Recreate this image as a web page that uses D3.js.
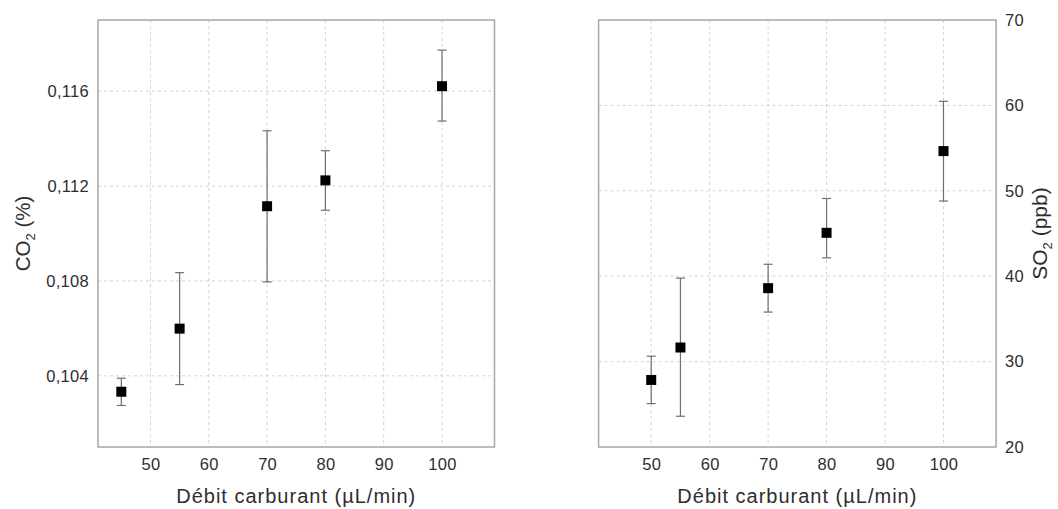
<!DOCTYPE html>
<html>
<head>
<meta charset="utf-8">
<script src="https://cdn.jsdelivr.net/npm/d3@7"></script>
<style>
  html, body { margin: 0; padding: 0; background: #fff; }
  svg { display: block; font-family: "Liberation Sans", Arial, sans-serif; }
</style>
</head>
<body>
<svg id="chart" width="1058" height="509"></svg>
<script>
// ---- data ----
const co2Flow = [45, 55, 70, 80, 100];
const co2Mean = [0.10333, 0.10599, 0.11115, 0.11224, 0.11621];
const co2Low  = [0.10275, 0.10363, 0.10796, 0.11098, 0.11474];
const co2High = [0.10390, 0.10835, 0.11433, 0.11349, 0.11773];

const so2Flow = [50, 55, 70, 80, 100];
const so2Mean = [27.85, 31.65, 38.6, 45.08, 54.65];
const so2Low  = [25.08, 23.6, 35.8, 42.15, 48.8];
const so2High = [30.63, 39.77, 41.4, 49.1, 60.48];

const xTicks = [50, 60, 70, 80, 90, 100];
const co2Ticks = [0.104, 0.108, 0.112, 0.116];
const co2TickLabels = ["0,104", "0,108", "0,112", "0,116"];
const so2Ticks = [20, 30, 40, 50, 60, 70];
const xTitle = "Débit carburant (µL/min)";

const svg = d3.select("#chart");
const plotTop = 20, plotBottom = 447;
const textColor = "#2e2e2e";

function panel(opts) {
  const g = svg.append("g");
  const x = d3.scaleLinear().domain([41, 109]).range([opts.left, opts.right]);
  const y = d3.scaleLinear().domain(opts.yDomain).range([plotBottom, plotTop]);

  // grid
  g.append("g").selectAll("line").data(xTicks).join("line")
    .attr("x1", d => x(d)).attr("x2", d => x(d))
    .attr("y1", plotTop).attr("y2", plotBottom)
    .attr("stroke", "#d4d4d4").attr("stroke-width", 1).attr("stroke-dasharray", "3,3");
  g.append("g").selectAll("line").data(opts.gridTicks).join("line")
    .attr("x1", opts.left).attr("x2", opts.right)
    .attr("y1", d => y(d)).attr("y2", d => y(d))
    .attr("stroke", "#d4d4d4").attr("stroke-width", 1).attr("stroke-dasharray", "3,3");

  // frame
  g.append("rect").attr("x", opts.left).attr("y", plotTop)
    .attr("width", opts.right - opts.left).attr("height", plotBottom - plotTop)
    .attr("fill", "none").attr("stroke", "#a6a6a6").attr("stroke-width", 1.5);

  // x axis
  const xa = g.append("g").attr("transform", `translate(0,${plotBottom})`)
    .call(d3.axisBottom(x).tickValues(xTicks).tickSize(0).tickPadding(11.5));
  xa.select(".domain").remove();
  xa.selectAll("text").attr("font-size", 16.5).attr("fill", textColor)
    .attr("letter-spacing", 0.3)
    .attr("font-family", "Liberation Sans, Arial, sans-serif");

  // y axis
  let ya;
  if (opts.side === "left") {
    ya = g.append("g").attr("transform", `translate(${opts.left},0)`)
      .call(d3.axisLeft(y).tickValues(opts.ticks).tickSize(0).tickPadding(9)
        .tickFormat((d, i) => opts.tickLabels ? opts.tickLabels[i] : d));
  } else {
    ya = g.append("g").attr("transform", `translate(${opts.right},0)`)
      .call(d3.axisRight(y).tickValues(opts.ticks).tickSize(0).tickPadding(9));
  }
  ya.select(".domain").remove();
  ya.selectAll("text").attr("font-size", 16.5).attr("fill", textColor)
    .attr("letter-spacing", 0.3)
    .attr("font-family", "Liberation Sans, Arial, sans-serif");

  // x title
  g.append("text").attr("x", (opts.left + opts.right) / 2).attr("y", 503)
    .attr("text-anchor", "middle").attr("font-size", 20).attr("fill", textColor)
    .attr("letter-spacing", 1.0)
    .text(xTitle);

  // y title
  const yt = g.append("text")
    .attr("transform", `translate(${opts.yTitleX},${(plotTop + plotBottom) / 2}) rotate(-90)`)
    .attr("text-anchor", "middle").attr("font-size", opts.yTitleSize).attr("fill", textColor);
  yt.append("tspan").text(opts.yTitle[0]);
  yt.append("tspan").attr("font-size", 13).attr("dy", 5).text("2");
  yt.append("tspan").attr("dy", -5).text(opts.yTitle[1]);

  // error bars
  const pts = opts.xs.map((d, i) => ({x: d, m: opts.mean[i], lo: opts.low[i], hi: opts.high[i]}));
  const eb = g.append("g").attr("stroke", "#6e6e6e").attr("stroke-width", 1.2);
  eb.append("g").selectAll("line").data(pts).join("line")
    .attr("x1", d => x(d.x)).attr("x2", d => x(d.x))
    .attr("y1", d => y(d.lo)).attr("y2", d => y(d.hi));
  const capW = 4.5;
  eb.append("g").selectAll("line").data(pts).join("line")
    .attr("x1", d => x(d.x) - capW).attr("x2", d => x(d.x) + capW)
    .attr("y1", d => y(d.hi)).attr("y2", d => y(d.hi));
  eb.append("g").selectAll("line").data(pts).join("line")
    .attr("x1", d => x(d.x) - capW).attr("x2", d => x(d.x) + capW)
    .attr("y1", d => y(d.lo)).attr("y2", d => y(d.lo));

  // markers
  const s = 10;
  g.append("g").selectAll("rect").data(pts).join("rect")
    .attr("x", d => x(d.x) - s / 2).attr("y", d => y(d.m) - s / 2)
    .attr("width", s).attr("height", s).attr("fill", "#000");
}

panel({
  left: 98, right: 494.5, yDomain: [0.101, 0.119], side: "left",
  ticks: co2Ticks, tickLabels: co2TickLabels, gridTicks: co2Ticks,
  yTitle: ["CO", " (%)"], yTitleX: 30, yTitleSize: 20.5,
  xs: co2Flow, mean: co2Mean, low: co2Low, high: co2High
});

panel({
  left: 598.6, right: 996.1, yDomain: [20, 70], side: "right",
  ticks: so2Ticks, gridTicks: [30, 40, 50, 60],
  yTitle: ["SO", " (ppb)"], yTitleX: 1047, yTitleSize: 21,
  xs: so2Flow, mean: so2Mean, low: so2Low, high: so2High
});
</script>
</body>
</html>
